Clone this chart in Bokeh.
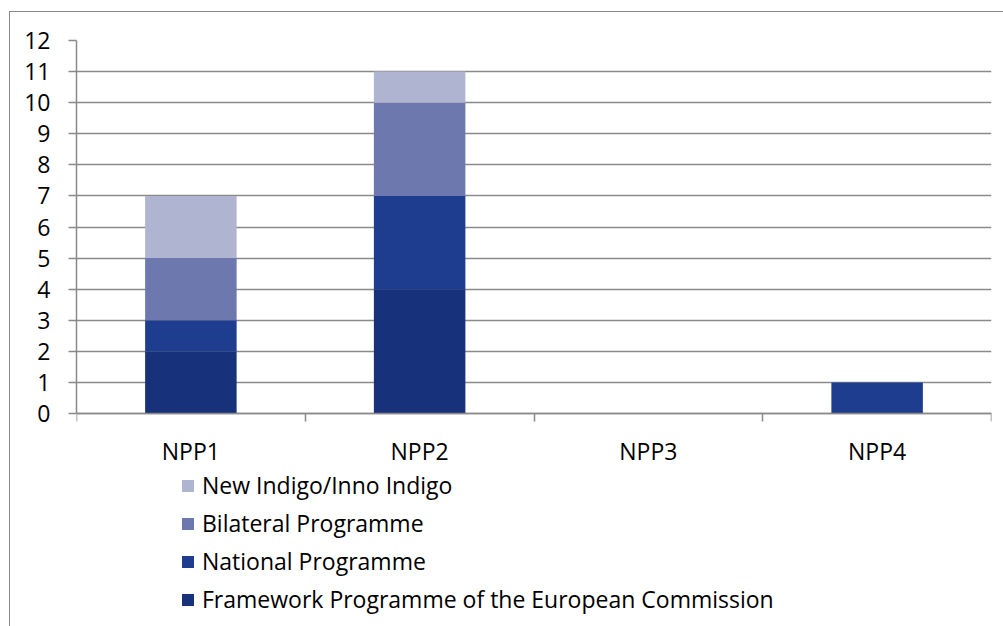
from bokeh.plotting import figure
from bokeh.models import Range1d, FixedTicker, Legend, LegendItem
from bokeh.embed import file_html
from bokeh.resources import INLINE

categories = ["NPP1", "NPP2", "NPP3", "NPP4"]
framework = [2, 4, 0, 0]
national = [1, 3, 0, 1]
bilateral = [2, 3, 0, 0]
new_indigo = [2, 1, 0, 0]
series_names = ["Framework Programme of the European Commission", "National Programme",
                "Bilateral Programme", "New Indigo/Inno Indigo"]
colors = ["#17317A", "#1F3D8E", "#6C78AE", "#AFB4D1"]
y_ticks = list(range(0, 13))

FONT = "Open Sans"
FSIZE = "23px"
GRID = "#8a8a8a"

xs = [i + 0.5 for i in range(len(categories))]
data = dict(x=xs, s0=framework, s1=national, s2=bilateral, s3=new_indigo)

# the frame reaches down to the legend; value 0 sits where the category axis is drawn
p = figure(width=994, height=615, output_backend="svg", toolbar_location=None,
           x_range=Range1d(0, 4), y_range=Range1d(-6.56, 12),
           min_border_left=66, min_border_top=28, min_border_right=13, min_border_bottom=10)
p.styles = {"margin-left": "9px", "margin-top": "11px",
            "border-left": "1px solid #8a8a8a", "border-top": "1px solid #8a8a8a"}
p.outline_line_color = None
p.xgrid.visible = False
p.ygrid.ticker = FixedTicker(ticks=y_ticks)
p.ygrid.grid_line_color = GRID
p.ygrid.grid_line_width = 1.5

renderers = p.vbar_stack(["s0", "s1", "s2", "s3"], x="x", width=0.4, color=colors,
                         line_color=None, source=data)

# y axis
ya = p.yaxis[0]
ya.ticker = FixedTicker(ticks=y_ticks)
ya.bounds = (0, 12)
ya.axis_line_color = GRID
ya.axis_line_width = 1.5
ya.major_tick_line_color = GRID
ya.major_tick_line_width = 1.5
ya.major_tick_out = 8
ya.major_tick_in = 0
ya.minor_tick_line_color = None
ya.major_label_text_font = FONT
ya.major_label_text_font_size = FSIZE
ya.major_label_text_color = "#000000"
ya.major_label_standoff = 18

# x axis at value 0: labels at category centres, ticks at category boundaries
xa = p.xaxis[0]
xa.fixed_location = 0
xa.ticker = FixedTicker(ticks=xs, minor_ticks=[0, 1, 2, 3, 4])
xa.major_label_overrides = {x: c for x, c in zip(xs, categories)}
xa.axis_line_color = GRID
xa.axis_line_width = 1.5
xa.major_tick_line_color = None
xa.minor_tick_line_color = GRID
xa.minor_tick_line_width = 1.5
xa.minor_tick_out = 8
xa.minor_tick_in = 0
xa.major_label_text_font = FONT
xa.major_label_text_font_size = FSIZE
xa.major_label_text_color = "#000000"
xa.major_label_standoff = 13

items = [LegendItem(label=series_names[i], renderers=[renderers[i]]) for i in [3, 2, 1, 0]]
legend = Legend(items=items, location=(104, 2), orientation="vertical")
legend.border_line_color = None
legend.background_fill_alpha = 0
legend.label_text_font = FONT
legend.label_text_font_size = FSIZE
legend.label_text_color = "#000000"
legend.glyph_width = 15
legend.glyph_height = 15
legend.label_height = 20
legend.label_standoff = 7
legend.spacing = 6
legend.padding = 0
legend.margin = 0
p.add_layout(legend, "center")

open("out.html", "w").write(file_html(p, INLINE))
